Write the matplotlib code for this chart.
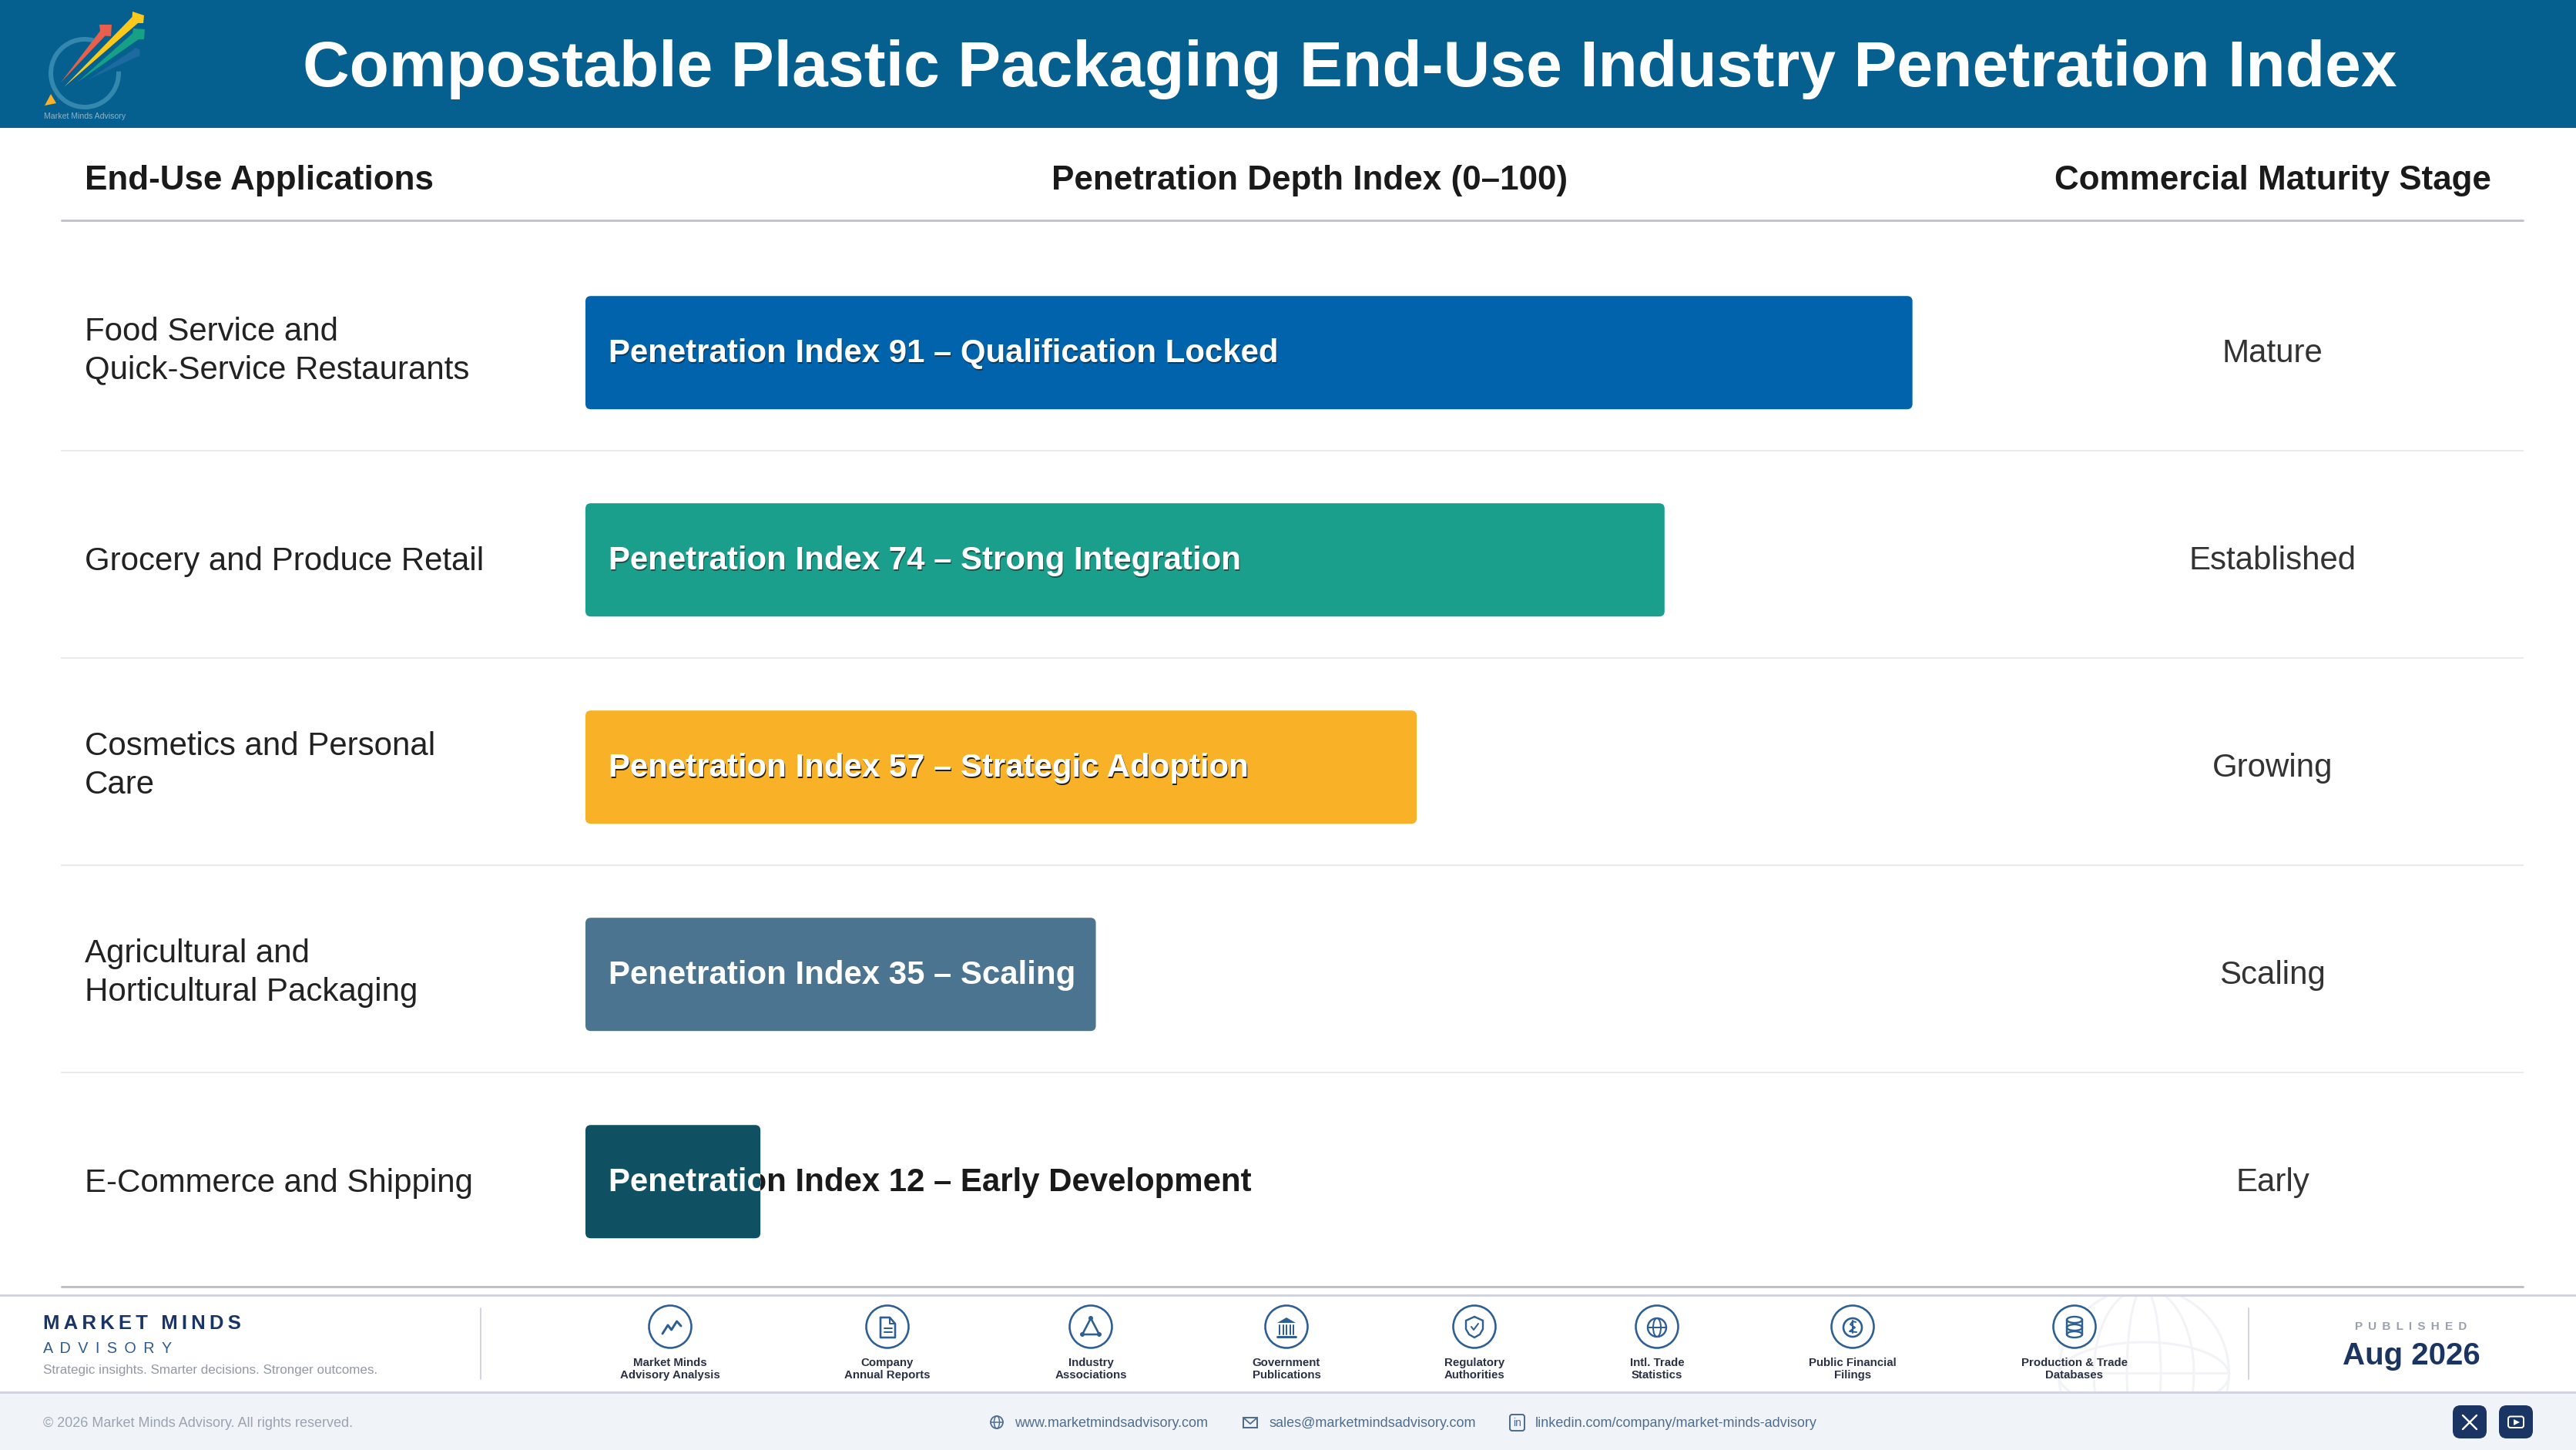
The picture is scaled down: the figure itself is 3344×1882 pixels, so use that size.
import numpy as np
import matplotlib
matplotlib.use("Agg")
import matplotlib.pyplot as plt
from matplotlib.patches import FancyBboxPatch, Rectangle, Circle, Ellipse, Polygon, Arc
from matplotlib.transforms import Bbox, TransformedBbox

plt.rcParams['font.family'] = ['Liberation Sans', 'DejaVu Sans']

# ---------- data ----------
TITLE = "Compostable Plastic Packaging End-Use Industry Penetration Index"
HEADERS = ["End-Use Applications", "Penetration Depth Index (0–100)", "Commercial Maturity Stage"]
applications = ["Food Service and\nQuick-Service Restaurants", "Grocery and Produce Retail",
                "Cosmetics and Personal\nCare", "Agricultural and\nHorticultural Packaging",
                "E-Commerce and Shipping"]
index_values = [91, 74, 57, 35, 12]
descriptors = ["Qualification Locked", "Strong Integration", "Strategic Adoption", "Scaling", "Early Development"]
stages = ["Mature", "Established", "Growing", "Scaling", "Early"]
bar_colors = ["#0063AB", "#1A9F8C", "#F9B128", "#4A748F", "#0F5163"]
shadow_alpha = [0.55, 0.55, 0.95, 0.0, 0.0]
sources = ["Market Minds\nAdvisory Analysis", "Company\nAnnual Reports", "Industry\nAssociations",
           "Government\nPublications", "Regulatory\nAuthorities", "Intl. Trade\nStatistics",
           "Public Financial\nFilings", "Production & Trade\nDatabases"]
source_x = [870, 1152, 1416, 1670, 1914, 2151, 2405, 2693]

W, H = 3344, 1882
fig = plt.figure(figsize=(W / 100, H / 100), dpi=100, facecolor="white")
ui = fig.add_axes([0, 0, 1, 1], zorder=0)
ui.set_xlim(0, W); ui.set_ylim(H, 0); ui.axis("off")
NAVY, BLUE = "#1A3563", "#2D5F94"
px = 0.72  # line width: one pixel in points
renderer = fig.canvas.get_renderer()


def fitted(string, width, **kw):
    """Font size at which `string` is `width` pixels wide."""
    t = fig.text(0, 0, string, fontsize=20, **kw)
    w = t.get_window_extent(renderer).width
    t.remove()
    return 20 * width / w


def line(xs, ys, c=BLUE, lw=2.5, **kw):
    ui.plot(xs, ys, color=c, lw=lw * px, solid_capstyle="round", solid_joinstyle="round", **kw)


def rrect(x0, y0, x1, y1, r, **kw):
    p = FancyBboxPatch((x0, y0), x1 - x0, y1 - y0, boxstyle=f"round,pad=0,rounding_size={r}", **kw)
    ui.add_patch(p)
    return p


def logo_arrow(tail, barb1, tip, barb2, neck, color):
    tail, barb1, tip, barb2 = map(np.array, (tail, barb1, tip, barb2))
    u = (barb2 - barb1) / np.hypot(*(barb2 - barb1))
    mid = (barb1 + barb2) / 2
    d = (tail - mid) / np.hypot(*(tail - mid))
    base = mid + d * 5
    ui.add_patch(Polygon([tail, base - u * neck / 2, barb1, tip, barb2, base + u * neck / 2], fc=color, ec="none"))


# ---------- header band ----------
ui.add_patch(Rectangle((0, 0), W, 166, fc="#05608F", ec="none"))
ui.text(1752, 90, TITLE, color="white", fontweight="bold", ha="center", va="center",
        fontsize=fitted(TITLE, 2715, fontweight="bold"))

# logo
ui.add_patch(Arc((110, 95), 88, 88, angle=0, theta1=-3, theta2=285, ec="#3488AE", lw=6 * px))
ui.add_patch(Polygon([(58, 137), (66, 122), (73, 134)], fc="#F9B128", ec="none"))
logo_arrow((115, 103), (176, 62), (182, 65), (181, 73), 10, "#1D6AA0")
logo_arrow((100, 107), (173, 37), (188, 38), (187, 51), 11, "#16A085")
logo_arrow((79, 107), (129, 32), (145, 32), (144, 47), 9, "#E8604C")
logo_arrow((83, 113), (172, 15), (187, 20), (186, 30), 11, "#FBC91A")
ui.text(110, 151, "Market Minds Advisory", color="#8FB3CB", fontsize=7.6, ha="center", va="center")

# ---------- column headers ----------
hs = fitted(HEADERS[0], 452, fontweight="bold")
for x, s, ha in zip([110, 1700, 2950], HEADERS, ["left", "center", "center"]):
    ui.text(x, 234, s, fontweight="bold", fontsize=hs, color="#1A1A1A", ha=ha, va="center")
line([80, 3275], [286, 286], c="#C4C4CE", lw=3)
line([80, 3275], [1670, 1670], c="#BFBFCA", lw=3)

# ---------- chart axes: x is the index scale, y the row number ----------
AX_L, AX_R, AX_T, AX_B = 760, 2653, 288, 1668
ROW_Y0, ROW_PITCH = 457.7, 269.0
ax = fig.add_axes([AX_L / W, 1 - AX_B / H, (AX_R - AX_L) / W, (AX_B - AX_T) / H], zorder=2)
ax.patch.set_alpha(0)
ax.set_xlim(0, 100)
ax.set_ylim((AX_B - ROW_Y0) / ROW_PITCH, (AX_T - ROW_Y0) / ROW_PITCH)
ax.axis("off")
bar_h = 147 / ROW_PITCH
px_x = (AX_R - AX_L) / 100
aspect = px_x / ROW_PITCH
radius = 7 / px_x
ytr = ax.get_yaxis_transform()
xf = lambda p: (p - AX_L) / (AX_R - AX_L)

label_fs = fitted(f"Penetration Index {index_values[0]} – {descriptors[0]}", 872, fontweight="bold")
row_fs = fitted(applications[1], 518)
for i, (app, v, d, st, c, sa) in enumerate(zip(applications, index_values, descriptors, stages, bar_colors, shadow_alpha)):
    if i < len(applications) - 1:
        ax.plot([xf(80), xf(3275)], [i + 0.474] * 2, transform=ytr, color="#E9E9EE", lw=2 * px, clip_on=False)
    bar = FancyBboxPatch((0, i - bar_h / 2), v, bar_h, boxstyle=f"round,pad=0,rounding_size={radius}",
                         mutation_aspect=aspect, fc=c, ec="none", zorder=3)
    ax.add_patch(bar)
    label = f"Penetration Index {v} – {d}"
    y_text = i + 1.5 / ROW_PITCH
    x_text = (790 - AX_L) / px_x
    # dark copy: behind the bar, visible where the label overruns the bar
    dark = ax.text(x_text, y_text, label, color="#1A1A1A", fontweight="bold", fontsize=label_fs, va="center", zorder=2, clip_on=False)
    if dark.get_window_extent(renderer).x1 <= ax.transData.transform((v, 0))[0]:
        dark.remove()
    if sa > 0:
        ax.text(x_text + 1.3 / px_x, y_text + 1.3 / ROW_PITCH, label, color="#1A1A1A", alpha=sa,
                fontweight="bold", fontsize=label_fs, va="center", zorder=4)
    t = ax.text(x_text, y_text, label, color="white", fontweight="bold", fontsize=label_fs, va="center", zorder=5)
    t.set_clip_on(True)
    t.set_clip_box(TransformedBbox(Bbox([[0, i - bar_h / 2], [v, i + bar_h / 2]]), ax.transData))
    app_dy = -2 if "\n" in app else 2
    ax.text(xf(110), i + app_dy / ROW_PITCH, app, transform=ytr, fontsize=row_fs, color="#222222", va="center", ha="left",
            linespacing=1.32, clip_on=False)
    ax.text(xf(2950), i + 1 / ROW_PITCH, st, transform=ytr, fontsize=row_fs, color="#333333", va="center", ha="center", clip_on=False)

# ---------- footer ----------
ui.add_patch(Rectangle((0, 1807), W, H - 1807, fc="#F0F4F9", ec="none"))

# globe watermark (clipped to the white footer band)
clipper = Rectangle((0, 1682), W, 124, transform=ui.transData)
wm = "#F2F3F6"
for w_, h_ in [(221, 221), (130, 221), (44, 221)]:
    e = Ellipse((2783, 1782), w_, h_, fc="none", ec=wm, lw=3 * px)
    ui.add_patch(e); e.set_clip_path(clipper)
e = Ellipse((2783, 1785), 221, 86, fc="none", ec=wm, lw=3 * px)
ui.add_patch(e); e.set_clip_path(clipper)
line([2673, 2894], [1782, 1782], c=wm, lw=3)

line([0, W], [1681, 1681], c="#D2D4E2", lw=3)
line([0, W], [1807, 1807], c="#D2D4E2", lw=3)
line([624, 624], [1698, 1790], c="#D3D5DE", lw=2)
line([2919, 2919], [1698, 1790], c="#D3D5DE", lw=2)

ui.text(56, 1718, "\u2009".join("MARKET MINDS"), fontsize=18.5, fontweight="bold", color=NAVY, va="center")
ui.text(56, 1751, " \u2009".join("ADVISORY"), fontsize=14.2, color="#2F5A8F", va="center")
ui.text(56, 1778, "Strategic insights. Smarter decisions. Stronger outcomes.", color="#9298A5", va="center",
        fontsize=fitted("Strategic insights. Smarter decisions. Stronger outcomes.", 432))
ui.text(3130, 1722, " \u2009".join("PUBLISHED"), fontsize=11, fontweight="bold", color="#9AA0AE", ha="center", va="center")
ui.text(3130, 1760, "Aug 2026", fontweight="bold", color=NAVY, ha="center", va="center",
        fontsize=fitted("Aug 2026", 179, fontweight="bold"))

src_fs = fitted("Advisory Analysis", 129, fontweight="bold")
for x, s in zip(source_x, sources):
    ui.add_patch(Circle((x, 1722), 27.5, fc="white", ec=BLUE, lw=2.6 * px))
    ui.text(x, 1777, s, fontsize=src_fs, fontweight="bold", color="#2A3044", ha="center", va="center", linespacing=1.16)

CY = 1722
# trend
line([860, 867, 871.6, 878.6, 884], [1731, 1720, 1726, 1715, 1721], lw=3)
# document
x = 1152
line([x - 9, x + 3, x + 10, x + 10, x - 9, x - 9], [CY - 12, CY - 12, CY - 4, CY + 14, CY + 14, CY - 12], lw=2.6)
line([x + 3, x + 3, x + 10], [CY - 12, CY - 4, CY - 4], lw=2)
line([x - 4, x + 6], [CY + 2, CY + 2], lw=2)
line([x - 4, x + 6], [CY + 7, CY + 7], lw=2)
# network triangle
x = 1416
line([x, x - 11, x + 11, x], [CY - 11, CY + 10, CY + 10, CY - 11], lw=2.6)
for dx, dy in [(0, -11), (-11, 10), (11, 10)]:
    ui.add_patch(Circle((x + dx, CY + dy), 3, fc=BLUE, ec="none"))
# institution
x = 1670
ui.add_patch(Polygon([(x - 12, CY - 5), (x, CY - 12), (x + 12, CY - 5)], fc=BLUE, ec="none"))
for dx in [-9, -4.5, 0, 4.5, 9]:
    line([x + dx, x + dx], [CY - 2, CY + 10], lw=2)
line([x - 12, x + 12], [CY + 13, CY + 13], lw=3)
# shield
x = 1914
line([x, x + 11, x + 11, x + 7, x, x - 7, x - 11, x - 11, x], [CY - 13, CY - 8, CY + 3, CY + 10, CY + 14, CY + 10, CY + 3, CY - 8, CY - 13], lw=2.4)
line([x - 4, x - 1, x + 5], [CY, CY + 4, CY - 4], lw=2)
# globe
x = 2151
ui.add_patch(Circle((x, CY + 1), 12, fc="none", ec=BLUE, lw=2.4 * px))
ui.add_patch(Ellipse((x, CY + 1), 10, 24, fc="none", ec=BLUE, lw=2 * px))
line([x - 12, x + 12], [CY + 1, CY + 1], lw=2)
# coin
x = 2405
ui.add_patch(Circle((x, CY + 1), 12, fc="none", ec=BLUE, lw=2.6 * px))
line([x + 4, x, x - 3, x + 3, x, x - 4, x + 5], [CY - 6, CY - 7, CY - 3, CY + 1, CY + 3, CY + 6, CY + 7], lw=2)
line([x, x], [CY - 8, CY + 8], lw=2)
# database
x = 2693
for dy in [-9, 1, 10]:
    ui.add_patch(Ellipse((x, CY + dy), 20, 8, fc="none", ec=BLUE, lw=2.4 * px))
line([x - 10, x - 10], [CY - 9, CY + 10], lw=2.4)
line([x + 10, x + 10], [CY - 9, CY + 10], lw=2.4)

# bottom strip
LINK = "#4F6D8F"
ui.text(56, 1848, "© 2026 Market Minds Advisory. All rights reserved.", color="#9BA3B0", va="center",
        fontsize=fitted("© 2026 Market Minds Advisory. All rights reserved.", 400))
link_fs = fitted("www.marketmindsadvisory.com", 250)
ui.text(1317, 1848, "www.marketmindsadvisory.com", color=LINK, fontsize=link_fs, va="center")
ui.text(1647, 1848, "sales@marketmindsadvisory.com", color=LINK, fontsize=link_fs, va="center")
ui.text(1993, 1848, "linkedin.com/company/market-minds-advisory", color=LINK, fontsize=link_fs, va="center")
ui.add_patch(Circle((1294, 1846), 8, fc="none", ec=LINK, lw=1.8 * px))
ui.add_patch(Ellipse((1294, 1846), 7, 16, fc="none", ec=LINK, lw=1.5 * px))
line([1286, 1302], [1846, 1846], c=LINK, lw=1.5)
ui.add_patch(Rectangle((1614, 1840), 18, 13, fc="none", ec=LINK, lw=2 * px))
line([1614, 1623, 1632], [1840, 1848, 1840], c=LINK, lw=1.8)
rrect(1960, 1836, 1979, 1857, 3, fc="none", ec=LINK, lw=2 * px)
ui.text(1969.5, 1847, "in", color=LINK, fontsize=10, ha="center", va="center")

rrect(3184, 1824, 3228, 1867, 10, fc=NAVY, ec="none")
rrect(3244, 1824, 3288, 1867, 10, fc=NAVY, ec="none")
line([3197, 3215], [1837, 1855], c="white", lw=2.4)
line([3215, 3197], [1837, 1855], c="white", lw=2.4)
rrect(3256, 1838.5, 3276, 1853, 3, fc="none", ec="white", lw=2 * px)
ui.add_patch(Polygon([(3263, 1842), (3271, 1846), (3263, 1850)], fc="white", ec="none"))

fig.savefig("out.png", dpi=100, facecolor="white")
